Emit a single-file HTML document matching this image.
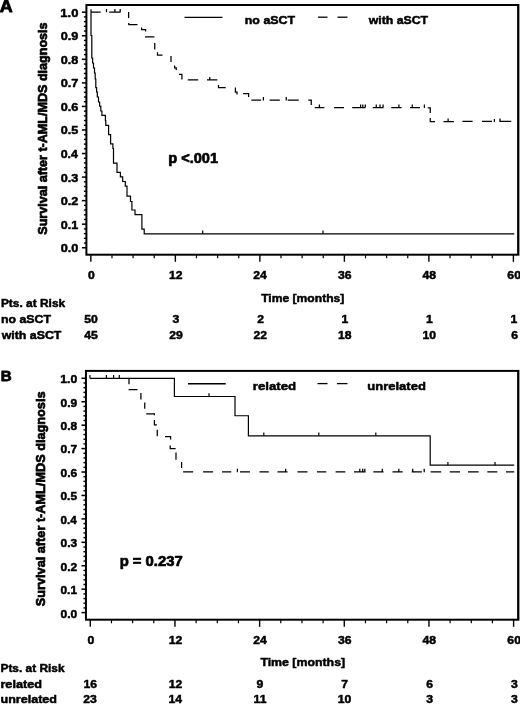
<!DOCTYPE html>
<html><head><meta charset="utf-8"><title>Survival after t-AML/MDS diagnosis</title>
<style>
html,body{margin:0;padding:0;background:#fff;}
svg{display:block;}
svg text{font-family:"Liberation Sans", Arial, Helvetica, sans-serif;font-weight:bold;fill:#000;stroke:#000;stroke-width:0.5px;stroke-linejoin:round;}
</style></head><body>
<svg width="520" height="704" viewBox="0 0 520 704">
<rect x="0" y="0" width="520" height="704" fill="#fff"/>
<rect x="86.4" y="5.0" width="431.70000000000005" height="249.7" fill="none" stroke="#000" stroke-width="2.0"/>
<rect x="519.15" y="4.0" width="0.85" height="251.7" fill="#8c8c8c"/>
<line x1="81.9" y1="247.75" x2="86.4" y2="247.75" stroke="#000" stroke-width="1.5"/>
<line x1="83.9" y1="243.04" x2="86.4" y2="243.04" stroke="#000" stroke-width="1.4"/>
<line x1="83.9" y1="238.33" x2="86.4" y2="238.33" stroke="#000" stroke-width="1.4"/>
<line x1="83.9" y1="233.62" x2="86.4" y2="233.62" stroke="#000" stroke-width="1.4"/>
<line x1="83.9" y1="228.91" x2="86.4" y2="228.91" stroke="#000" stroke-width="1.4"/>
<line x1="81.9" y1="224.19" x2="86.4" y2="224.19" stroke="#000" stroke-width="1.5"/>
<line x1="83.9" y1="219.48" x2="86.4" y2="219.48" stroke="#000" stroke-width="1.4"/>
<line x1="83.9" y1="214.77" x2="86.4" y2="214.77" stroke="#000" stroke-width="1.4"/>
<line x1="83.9" y1="210.06" x2="86.4" y2="210.06" stroke="#000" stroke-width="1.4"/>
<line x1="83.9" y1="205.35" x2="86.4" y2="205.35" stroke="#000" stroke-width="1.4"/>
<line x1="81.9" y1="200.64" x2="86.4" y2="200.64" stroke="#000" stroke-width="1.5"/>
<line x1="83.9" y1="195.93" x2="86.4" y2="195.93" stroke="#000" stroke-width="1.4"/>
<line x1="83.9" y1="191.22" x2="86.4" y2="191.22" stroke="#000" stroke-width="1.4"/>
<line x1="83.9" y1="186.51" x2="86.4" y2="186.51" stroke="#000" stroke-width="1.4"/>
<line x1="83.9" y1="181.8" x2="86.4" y2="181.8" stroke="#000" stroke-width="1.4"/>
<line x1="81.9" y1="177.08" x2="86.4" y2="177.08" stroke="#000" stroke-width="1.5"/>
<line x1="83.9" y1="172.37" x2="86.4" y2="172.37" stroke="#000" stroke-width="1.4"/>
<line x1="83.9" y1="167.66" x2="86.4" y2="167.66" stroke="#000" stroke-width="1.4"/>
<line x1="83.9" y1="162.95" x2="86.4" y2="162.95" stroke="#000" stroke-width="1.4"/>
<line x1="83.9" y1="158.24" x2="86.4" y2="158.24" stroke="#000" stroke-width="1.4"/>
<line x1="81.9" y1="153.53" x2="86.4" y2="153.53" stroke="#000" stroke-width="1.5"/>
<line x1="83.9" y1="148.82" x2="86.4" y2="148.82" stroke="#000" stroke-width="1.4"/>
<line x1="83.9" y1="144.11" x2="86.4" y2="144.11" stroke="#000" stroke-width="1.4"/>
<line x1="83.9" y1="139.4" x2="86.4" y2="139.4" stroke="#000" stroke-width="1.4"/>
<line x1="83.9" y1="134.69" x2="86.4" y2="134.69" stroke="#000" stroke-width="1.4"/>
<line x1="81.9" y1="129.97" x2="86.4" y2="129.97" stroke="#000" stroke-width="1.5"/>
<line x1="83.9" y1="125.26" x2="86.4" y2="125.26" stroke="#000" stroke-width="1.4"/>
<line x1="83.9" y1="120.55" x2="86.4" y2="120.55" stroke="#000" stroke-width="1.4"/>
<line x1="83.9" y1="115.84" x2="86.4" y2="115.84" stroke="#000" stroke-width="1.4"/>
<line x1="83.9" y1="111.13" x2="86.4" y2="111.13" stroke="#000" stroke-width="1.4"/>
<line x1="81.9" y1="106.42" x2="86.4" y2="106.42" stroke="#000" stroke-width="1.5"/>
<line x1="83.9" y1="101.71" x2="86.4" y2="101.71" stroke="#000" stroke-width="1.4"/>
<line x1="83.9" y1="97.0" x2="86.4" y2="97.0" stroke="#000" stroke-width="1.4"/>
<line x1="83.9" y1="92.29" x2="86.4" y2="92.29" stroke="#000" stroke-width="1.4"/>
<line x1="83.9" y1="87.58" x2="86.4" y2="87.58" stroke="#000" stroke-width="1.4"/>
<line x1="81.9" y1="82.87" x2="86.4" y2="82.87" stroke="#000" stroke-width="1.5"/>
<line x1="83.9" y1="78.15" x2="86.4" y2="78.15" stroke="#000" stroke-width="1.4"/>
<line x1="83.9" y1="73.44" x2="86.4" y2="73.44" stroke="#000" stroke-width="1.4"/>
<line x1="83.9" y1="68.73" x2="86.4" y2="68.73" stroke="#000" stroke-width="1.4"/>
<line x1="83.9" y1="64.02" x2="86.4" y2="64.02" stroke="#000" stroke-width="1.4"/>
<line x1="81.9" y1="59.31" x2="86.4" y2="59.31" stroke="#000" stroke-width="1.5"/>
<line x1="83.9" y1="54.6" x2="86.4" y2="54.6" stroke="#000" stroke-width="1.4"/>
<line x1="83.9" y1="49.89" x2="86.4" y2="49.89" stroke="#000" stroke-width="1.4"/>
<line x1="83.9" y1="45.18" x2="86.4" y2="45.18" stroke="#000" stroke-width="1.4"/>
<line x1="83.9" y1="40.47" x2="86.4" y2="40.47" stroke="#000" stroke-width="1.4"/>
<line x1="81.9" y1="35.75" x2="86.4" y2="35.75" stroke="#000" stroke-width="1.5"/>
<line x1="83.9" y1="31.04" x2="86.4" y2="31.04" stroke="#000" stroke-width="1.4"/>
<line x1="83.9" y1="26.33" x2="86.4" y2="26.33" stroke="#000" stroke-width="1.4"/>
<line x1="83.9" y1="21.62" x2="86.4" y2="21.62" stroke="#000" stroke-width="1.4"/>
<line x1="83.9" y1="16.91" x2="86.4" y2="16.91" stroke="#000" stroke-width="1.4"/>
<line x1="81.9" y1="12.2" x2="86.4" y2="12.2" stroke="#000" stroke-width="1.5"/>
<line x1="90.85" y1="254.7" x2="90.85" y2="261.8" stroke="#000" stroke-width="1.4"/>
<line x1="111.98" y1="254.7" x2="111.98" y2="258.3" stroke="#000" stroke-width="1.2"/>
<line x1="133.1" y1="254.7" x2="133.1" y2="258.3" stroke="#000" stroke-width="1.2"/>
<line x1="154.23" y1="254.7" x2="154.23" y2="258.3" stroke="#000" stroke-width="1.2"/>
<line x1="175.36" y1="254.7" x2="175.36" y2="261.8" stroke="#000" stroke-width="1.4"/>
<line x1="196.49" y1="254.7" x2="196.49" y2="258.3" stroke="#000" stroke-width="1.2"/>
<line x1="217.61" y1="254.7" x2="217.61" y2="258.3" stroke="#000" stroke-width="1.2"/>
<line x1="238.74" y1="254.7" x2="238.74" y2="258.3" stroke="#000" stroke-width="1.2"/>
<line x1="259.87" y1="254.7" x2="259.87" y2="261.8" stroke="#000" stroke-width="1.4"/>
<line x1="281.0" y1="254.7" x2="281.0" y2="258.3" stroke="#000" stroke-width="1.2"/>
<line x1="302.12" y1="254.7" x2="302.12" y2="258.3" stroke="#000" stroke-width="1.2"/>
<line x1="323.25" y1="254.7" x2="323.25" y2="258.3" stroke="#000" stroke-width="1.2"/>
<line x1="344.38" y1="254.7" x2="344.38" y2="261.8" stroke="#000" stroke-width="1.4"/>
<line x1="365.51" y1="254.7" x2="365.51" y2="258.3" stroke="#000" stroke-width="1.2"/>
<line x1="386.63" y1="254.7" x2="386.63" y2="258.3" stroke="#000" stroke-width="1.2"/>
<line x1="407.76" y1="254.7" x2="407.76" y2="258.3" stroke="#000" stroke-width="1.2"/>
<line x1="428.89" y1="254.7" x2="428.89" y2="261.8" stroke="#000" stroke-width="1.4"/>
<line x1="450.02" y1="254.7" x2="450.02" y2="258.3" stroke="#000" stroke-width="1.2"/>
<line x1="471.14" y1="254.7" x2="471.14" y2="258.3" stroke="#000" stroke-width="1.2"/>
<line x1="492.27" y1="254.7" x2="492.27" y2="258.3" stroke="#000" stroke-width="1.2"/>
<line x1="513.4" y1="254.7" x2="513.4" y2="261.8" stroke="#000" stroke-width="1.4"/>
<path d="M91,12.2 V35.5 H91.8 V58 H92.6 V63 H93.5 V68 H94.5 V73 H95.2 V79 H95.8 V87.7 H96.6 V92 H97.3 V97 H98.5 V102 H99.6 V106.2 H100.8 V111 H101.9 V115.4 H105.4 V120.5 H105.8 V125.4 H108.6 V134.6 H110.6 V143.8 H112.9 V148.5 H113.5 V163.1 H117 V172.3 H120.4 V176.9 H122.7 V181.5 H125.3 V186.2 H127 V196.2 H130.5 V201.5 H131.9 V210 H135 V214.6 H141.9 V229.2 H144.2 V233.8 H514.3" fill="none" stroke="#000" stroke-width="1.2"/>
<line x1="202.7" y1="233.8" x2="202.7" y2="230.4" stroke="#000" stroke-width="1.2"/>
<line x1="323" y1="233.8" x2="323" y2="230.4" stroke="#000" stroke-width="1.2"/>
<line x1="91" y1="12.2" x2="91" y2="9.2" stroke="#000" stroke-width="1.2"/>
<path d="M91,12.2 H100.6 M106.5,12.2 V9 M109.2,12.2 H120.4 M114.9,12.2 V9 M120.2,12.2 V9 M128.6,12 V18.1 M128.8,22.9 V24.7 H137.5 M141.6,27.5 V29.5 H145.6 V31.5 M145,36.9 H154.4 M154.75,43.1 V49.4 M157.5,52.2 V55 H162.5 M171,56 V61.9 M174.6,65.6 V67.75 H176.25 V70 M179,74.4 H181.9 V79.4 M187.75,79.8 H198.2 M207,79.9 H217.3 M209.75,79.9 V77 M218.5,85 V87.5 H225.7 M235.4,87.5 V92 H237 V94.4 M243.1,93.7 H248.6 V97 M251.3,100 H261.1 M263.4,100.4 V97 M269.6,100.2 H279.8 M286.25,100.4 V97 M287.75,100.2 H298.75 M308.3,100.1 H311.25 V105 M314.75,107.5 H324.4 M319.4,107.5 V104.6 M334,107.5 H344 M352.25,107.5 H365.3 M360.6,107.5 V104.5 M362.8,107.5 V104.5 M365.3,107.5 V104.5 M372.75,107.5 H383.5 M376.25,107.5 V104.5 M380,107.5 V104.5 M383.1,107.5 V104.5 M391.25,107.5 H401.6 M398.9,107.5 V104.5 M410,107.6 H420 M412.25,107.6 V104.5 M424.4,108 V104.5 M427.75,107.75 H430.25 V113.1 M430.25,118.1 V121.5 H435 M443.5,121.5 H453.9 M448.1,121.5 V118.5 M462.4,121.4 H472.6 M482,121.4 H492 M494.4,122 V119 M500,118.6 V121.4 H511.25" fill="none" stroke="#000" stroke-width="1.25"/>
<line x1="184.5" y1="17.4" x2="222.5" y2="17.4" stroke="#000" stroke-width="1.3"/>
<line x1="318" y1="17.2" x2="327.5" y2="17.2" stroke="#000" stroke-width="1.3"/>
<line x1="337.5" y1="17.2" x2="347.5" y2="17.2" stroke="#000" stroke-width="1.3"/>
<rect x="85.95" y="370.9" width="432.15000000000003" height="248.80000000000007" fill="none" stroke="#000" stroke-width="2.0"/>
<rect x="519.15" y="369.9" width="0.85" height="250.80000000000007" fill="#8c8c8c"/>
<line x1="81.45" y1="612.6" x2="85.95" y2="612.6" stroke="#000" stroke-width="1.5"/>
<line x1="83.45" y1="607.91" x2="85.95" y2="607.91" stroke="#000" stroke-width="1.4"/>
<line x1="83.45" y1="603.23" x2="85.95" y2="603.23" stroke="#000" stroke-width="1.4"/>
<line x1="83.45" y1="598.54" x2="85.95" y2="598.54" stroke="#000" stroke-width="1.4"/>
<line x1="83.45" y1="593.86" x2="85.95" y2="593.86" stroke="#000" stroke-width="1.4"/>
<line x1="81.45" y1="589.17" x2="85.95" y2="589.17" stroke="#000" stroke-width="1.5"/>
<line x1="83.45" y1="584.48" x2="85.95" y2="584.48" stroke="#000" stroke-width="1.4"/>
<line x1="83.45" y1="579.8" x2="85.95" y2="579.8" stroke="#000" stroke-width="1.4"/>
<line x1="83.45" y1="575.11" x2="85.95" y2="575.11" stroke="#000" stroke-width="1.4"/>
<line x1="83.45" y1="570.43" x2="85.95" y2="570.43" stroke="#000" stroke-width="1.4"/>
<line x1="81.45" y1="565.74" x2="85.95" y2="565.74" stroke="#000" stroke-width="1.5"/>
<line x1="83.45" y1="561.05" x2="85.95" y2="561.05" stroke="#000" stroke-width="1.4"/>
<line x1="83.45" y1="556.37" x2="85.95" y2="556.37" stroke="#000" stroke-width="1.4"/>
<line x1="83.45" y1="551.68" x2="85.95" y2="551.68" stroke="#000" stroke-width="1.4"/>
<line x1="83.45" y1="547.0" x2="85.95" y2="547.0" stroke="#000" stroke-width="1.4"/>
<line x1="81.45" y1="542.31" x2="85.95" y2="542.31" stroke="#000" stroke-width="1.5"/>
<line x1="83.45" y1="537.62" x2="85.95" y2="537.62" stroke="#000" stroke-width="1.4"/>
<line x1="83.45" y1="532.94" x2="85.95" y2="532.94" stroke="#000" stroke-width="1.4"/>
<line x1="83.45" y1="528.25" x2="85.95" y2="528.25" stroke="#000" stroke-width="1.4"/>
<line x1="83.45" y1="523.57" x2="85.95" y2="523.57" stroke="#000" stroke-width="1.4"/>
<line x1="81.45" y1="518.88" x2="85.95" y2="518.88" stroke="#000" stroke-width="1.5"/>
<line x1="83.45" y1="514.19" x2="85.95" y2="514.19" stroke="#000" stroke-width="1.4"/>
<line x1="83.45" y1="509.51" x2="85.95" y2="509.51" stroke="#000" stroke-width="1.4"/>
<line x1="83.45" y1="504.82" x2="85.95" y2="504.82" stroke="#000" stroke-width="1.4"/>
<line x1="83.45" y1="500.14" x2="85.95" y2="500.14" stroke="#000" stroke-width="1.4"/>
<line x1="81.45" y1="495.45" x2="85.95" y2="495.45" stroke="#000" stroke-width="1.5"/>
<line x1="83.45" y1="490.76" x2="85.95" y2="490.76" stroke="#000" stroke-width="1.4"/>
<line x1="83.45" y1="486.08" x2="85.95" y2="486.08" stroke="#000" stroke-width="1.4"/>
<line x1="83.45" y1="481.39" x2="85.95" y2="481.39" stroke="#000" stroke-width="1.4"/>
<line x1="83.45" y1="476.71" x2="85.95" y2="476.71" stroke="#000" stroke-width="1.4"/>
<line x1="81.45" y1="472.02" x2="85.95" y2="472.02" stroke="#000" stroke-width="1.5"/>
<line x1="83.45" y1="467.33" x2="85.95" y2="467.33" stroke="#000" stroke-width="1.4"/>
<line x1="83.45" y1="462.65" x2="85.95" y2="462.65" stroke="#000" stroke-width="1.4"/>
<line x1="83.45" y1="457.96" x2="85.95" y2="457.96" stroke="#000" stroke-width="1.4"/>
<line x1="83.45" y1="453.28" x2="85.95" y2="453.28" stroke="#000" stroke-width="1.4"/>
<line x1="81.45" y1="448.59" x2="85.95" y2="448.59" stroke="#000" stroke-width="1.5"/>
<line x1="83.45" y1="443.9" x2="85.95" y2="443.9" stroke="#000" stroke-width="1.4"/>
<line x1="83.45" y1="439.22" x2="85.95" y2="439.22" stroke="#000" stroke-width="1.4"/>
<line x1="83.45" y1="434.53" x2="85.95" y2="434.53" stroke="#000" stroke-width="1.4"/>
<line x1="83.45" y1="429.85" x2="85.95" y2="429.85" stroke="#000" stroke-width="1.4"/>
<line x1="81.45" y1="425.16" x2="85.95" y2="425.16" stroke="#000" stroke-width="1.5"/>
<line x1="83.45" y1="420.47" x2="85.95" y2="420.47" stroke="#000" stroke-width="1.4"/>
<line x1="83.45" y1="415.79" x2="85.95" y2="415.79" stroke="#000" stroke-width="1.4"/>
<line x1="83.45" y1="411.1" x2="85.95" y2="411.1" stroke="#000" stroke-width="1.4"/>
<line x1="83.45" y1="406.42" x2="85.95" y2="406.42" stroke="#000" stroke-width="1.4"/>
<line x1="81.45" y1="401.73" x2="85.95" y2="401.73" stroke="#000" stroke-width="1.5"/>
<line x1="83.45" y1="397.04" x2="85.95" y2="397.04" stroke="#000" stroke-width="1.4"/>
<line x1="83.45" y1="392.36" x2="85.95" y2="392.36" stroke="#000" stroke-width="1.4"/>
<line x1="83.45" y1="387.67" x2="85.95" y2="387.67" stroke="#000" stroke-width="1.4"/>
<line x1="83.45" y1="382.99" x2="85.95" y2="382.99" stroke="#000" stroke-width="1.4"/>
<line x1="81.45" y1="378.3" x2="85.95" y2="378.3" stroke="#000" stroke-width="1.5"/>
<line x1="90.3" y1="619.7" x2="90.3" y2="626.8000000000001" stroke="#000" stroke-width="1.4"/>
<line x1="111.47" y1="619.7" x2="111.47" y2="623.3000000000001" stroke="#000" stroke-width="1.2"/>
<line x1="132.63" y1="619.7" x2="132.63" y2="623.3000000000001" stroke="#000" stroke-width="1.2"/>
<line x1="153.8" y1="619.7" x2="153.8" y2="623.3000000000001" stroke="#000" stroke-width="1.2"/>
<line x1="174.96" y1="619.7" x2="174.96" y2="626.8000000000001" stroke="#000" stroke-width="1.4"/>
<line x1="196.12" y1="619.7" x2="196.12" y2="623.3000000000001" stroke="#000" stroke-width="1.2"/>
<line x1="217.29" y1="619.7" x2="217.29" y2="623.3000000000001" stroke="#000" stroke-width="1.2"/>
<line x1="238.45" y1="619.7" x2="238.45" y2="623.3000000000001" stroke="#000" stroke-width="1.2"/>
<line x1="259.62" y1="619.7" x2="259.62" y2="626.8000000000001" stroke="#000" stroke-width="1.4"/>
<line x1="280.79" y1="619.7" x2="280.79" y2="623.3000000000001" stroke="#000" stroke-width="1.2"/>
<line x1="301.95" y1="619.7" x2="301.95" y2="623.3000000000001" stroke="#000" stroke-width="1.2"/>
<line x1="323.12" y1="619.7" x2="323.12" y2="623.3000000000001" stroke="#000" stroke-width="1.2"/>
<line x1="344.28" y1="619.7" x2="344.28" y2="626.8000000000001" stroke="#000" stroke-width="1.4"/>
<line x1="365.45" y1="619.7" x2="365.45" y2="623.3000000000001" stroke="#000" stroke-width="1.2"/>
<line x1="386.61" y1="619.7" x2="386.61" y2="623.3000000000001" stroke="#000" stroke-width="1.2"/>
<line x1="407.78" y1="619.7" x2="407.78" y2="623.3000000000001" stroke="#000" stroke-width="1.2"/>
<line x1="428.94" y1="619.7" x2="428.94" y2="626.8000000000001" stroke="#000" stroke-width="1.4"/>
<line x1="450.11" y1="619.7" x2="450.11" y2="623.3000000000001" stroke="#000" stroke-width="1.2"/>
<line x1="471.27" y1="619.7" x2="471.27" y2="623.3000000000001" stroke="#000" stroke-width="1.2"/>
<line x1="492.44" y1="619.7" x2="492.44" y2="623.3000000000001" stroke="#000" stroke-width="1.2"/>
<line x1="513.6" y1="619.7" x2="513.6" y2="626.8000000000001" stroke="#000" stroke-width="1.4"/>
<path d="M89.9,378.3 H174.4 V396.5 H235 V415.75 H248.4 V435.8 H430.2 V465.2 H514.2" fill="none" stroke="#000" stroke-width="1.2"/>
<line x1="89.9" y1="378.3" x2="89.9" y2="375.0" stroke="#000" stroke-width="1.2"/>
<line x1="106.4" y1="378.3" x2="106.4" y2="375.0" stroke="#000" stroke-width="1.2"/>
<line x1="113.6" y1="378.3" x2="113.6" y2="375.0" stroke="#000" stroke-width="1.2"/>
<line x1="119.3" y1="378.3" x2="119.3" y2="375.0" stroke="#000" stroke-width="1.2"/>
<line x1="209" y1="396.5" x2="209" y2="393.2" stroke="#000" stroke-width="1.2"/>
<line x1="263.8" y1="435.8" x2="263.8" y2="432.5" stroke="#000" stroke-width="1.2"/>
<line x1="318.8" y1="435.8" x2="318.8" y2="432.5" stroke="#000" stroke-width="1.2"/>
<line x1="375.8" y1="435.8" x2="375.8" y2="432.5" stroke="#000" stroke-width="1.2"/>
<line x1="447.9" y1="465.2" x2="447.9" y2="461.9" stroke="#000" stroke-width="1.2"/>
<line x1="495" y1="465.2" x2="495" y2="461.9" stroke="#000" stroke-width="1.2"/>
<path d="M129,378.3 V384.2 M128.6,389.6 H137.5 M140.9,393.1 V399.4 M144.75,402.5 V408.75 M146.25,413.75 H154.4 V415.3 M154.4,420 V424.75 H156.9 M157.25,429.75 V436.25 M165,436.6 H170.6 V439.4 M170.2,445.4 V448.5 H175.6 M176,452.5 V459.75 M181.6,461.9 V468.1 M183.1,471.9 H193.1 M203.1,471.9 H213.1 M222,471.9 H231.25 M237.4,472.2 V468.8 M240,471.9 H250 M259.5,471.9 H268.75 M277.5,471.9 H287.5 M285.6,471.9 V468.8 M297.5,471.9 H307.5 M317,471.9 H326.25 M335.6,471.9 H345.3 M354,471.9 H365.6 M359.8,471.9 V468.8 M362.7,471.9 V468.8 M364.8,471.9 V468.8 M373.3,471.9 H383.5 M382.3,471.9 V468.8 M392.5,471.9 H402.7 M398.8,471.9 V468.8 M411.7,471.9 H421.9 M412.7,471.9 V468.8 M424.2,472.3 V468.8 M430.6,471.9 H441.2 M449.8,471.9 H460 M468,471.9 H478.7 M487.3,471.9 H497.3 M506,471.9 H514.2" fill="none" stroke="#000" stroke-width="1.25"/>
<line x1="188" y1="383.75" x2="225.75" y2="383.75" stroke="#000" stroke-width="1.3"/>
<line x1="317.5" y1="383.6" x2="327.5" y2="383.6" stroke="#000" stroke-width="1.3"/>
<line x1="337" y1="383.6" x2="347.5" y2="383.6" stroke="#000" stroke-width="1.3"/>
<text transform="translate(60.69,252.25) scale(1.0957,1)" font-size="11.6">0.0</text>
<text transform="translate(60.70,228.69) scale(1.0833,1)" font-size="11.6">0.1</text>
<text transform="translate(60.69,205.14) scale(1.0957,1)" font-size="11.6">0.2</text>
<text transform="translate(60.69,181.58) scale(1.0915,1)" font-size="11.6">0.3</text>
<text transform="translate(60.70,158.03) scale(1.0672,1)" font-size="11.6">0.4</text>
<text transform="translate(60.70,134.47) scale(1.0833,1)" font-size="11.6">0.5</text>
<text transform="translate(60.69,110.92) scale(1.0915,1)" font-size="11.6">0.6</text>
<text transform="translate(60.69,87.37) scale(1.0999,1)" font-size="11.6">0.7</text>
<text transform="translate(60.70,63.81) scale(1.0874,1)" font-size="11.6">0.8</text>
<text transform="translate(60.69,40.25) scale(1.0915,1)" font-size="11.6">0.9</text>
<text transform="translate(60.36,16.7) scale(1.1170,1)" font-size="11.6">1.0</text>
<text transform="translate(244.79,24.3) scale(1.0700,1)" font-size="11.6">no aSCT</text>
<text transform="translate(368.75,24.3) scale(1.0586,1)" font-size="11.6">with aSCT</text>
<text transform="translate(168.25,163.1) scale(1.0554,1)" font-size="13.8" style="stroke-width:0.65px">p &lt;.001</text>
<text transform="translate(-0.15,12.4) scale(1.0536,1)" font-size="17.0" style="stroke-width:0.8px">A</text>
<text transform="translate(87.92,279.2) scale(1.0500,1)" font-size="11.6">0</text>
<text transform="translate(169.09,279.2) scale(1.0500,1)" font-size="11.6">12</text>
<text transform="translate(253.31,279.2) scale(1.0500,1)" font-size="11.6">24</text>
<text transform="translate(337.90,279.2) scale(1.0500,1)" font-size="11.6">36</text>
<text transform="translate(422.43,279.2) scale(1.0500,1)" font-size="11.6">48</text>
<text transform="translate(507.37,279.2) scale(1.0500,1)" font-size="11.6">60</text>
<text transform="translate(261.13,302) scale(1.0451,1)" font-size="11.6">Time [months]</text>
<text transform="translate(0.92,307.3) scale(1.0280,1)" font-size="11.6">Pts. at Risk</text>
<text transform="translate(0.90,322.8) scale(1.0635,1)" font-size="11.6">no aSCT</text>
<text transform="translate(1.70,339.1) scale(1.0649,1)" font-size="11.6">with aSCT</text>
<text transform="translate(84.30,322.8) scale(1.0500,1)" font-size="11.6">50</text>
<text transform="translate(172.48,322.8) scale(1.0500,1)" font-size="11.6">3</text>
<text transform="translate(257.25,322.8) scale(1.0500,1)" font-size="11.6">2</text>
<text transform="translate(341.38,322.8) scale(1.0500,1)" font-size="11.6">1</text>
<text transform="translate(425.88,322.8) scale(1.0500,1)" font-size="11.6">1</text>
<text transform="translate(510.58,322.8) scale(1.0500,1)" font-size="11.6">1</text>
<text transform="translate(84.30,339.1) scale(1.0500,1)" font-size="11.6">45</text>
<text transform="translate(169.24,339.1) scale(1.0500,1)" font-size="11.6">29</text>
<text transform="translate(253.52,339.1) scale(1.0500,1)" font-size="11.6">22</text>
<text transform="translate(338.03,339.1) scale(1.0500,1)" font-size="11.6">18</text>
<text transform="translate(422.49,339.1) scale(1.0500,1)" font-size="11.6">10</text>
<text transform="translate(511.22,339.1) scale(1.0500,1)" font-size="11.6">6</text>
<text transform="translate(60.52,617.5) scale(1.0332,1)" font-size="11.6">0.0</text>
<text transform="translate(60.53,594.07) scale(1.0215,1)" font-size="11.6">0.1</text>
<text transform="translate(60.52,570.64) scale(1.0332,1)" font-size="11.6">0.2</text>
<text transform="translate(60.52,547.21) scale(1.0292,1)" font-size="11.6">0.3</text>
<text transform="translate(60.53,523.78) scale(1.0063,1)" font-size="11.6">0.4</text>
<text transform="translate(60.53,500.35) scale(1.0215,1)" font-size="11.6">0.5</text>
<text transform="translate(60.52,476.92) scale(1.0292,1)" font-size="11.6">0.6</text>
<text transform="translate(60.52,453.49) scale(1.0371,1)" font-size="11.6">0.7</text>
<text transform="translate(60.52,430.06) scale(1.0253,1)" font-size="11.6">0.8</text>
<text transform="translate(60.52,406.63) scale(1.0292,1)" font-size="11.6">0.9</text>
<text transform="translate(60.21,383.2) scale(1.0533,1)" font-size="11.6">1.0</text>
<text transform="translate(252.79,390.3) scale(1.1426,1)" font-size="11.6">related</text>
<text transform="translate(367.22,390.3) scale(1.1232,1)" font-size="11.6">unrelated</text>
<text transform="translate(119.63,565.8) scale(1.0765,1)" font-size="13.8" style="stroke-width:0.65px">p = 0.237</text>
<text transform="translate(0.82,381.0) scale(0.9922,1)" font-size="15.2" style="stroke-width:0.8px">B</text>
<text transform="translate(87.52,643.75) scale(1.0500,1)" font-size="11.6">0</text>
<text transform="translate(168.69,643.75) scale(1.0500,1)" font-size="11.6">12</text>
<text transform="translate(253.31,643.75) scale(1.0500,1)" font-size="11.6">24</text>
<text transform="translate(337.90,643.75) scale(1.0500,1)" font-size="11.6">36</text>
<text transform="translate(422.43,643.75) scale(1.0500,1)" font-size="11.6">48</text>
<text transform="translate(507.37,643.75) scale(1.0500,1)" font-size="11.6">60</text>
<text transform="translate(260.38,666.25) scale(1.0641,1)" font-size="11.6">Time [months]</text>
<text transform="translate(0.48,672) scale(1.0240,1)" font-size="11.6">Pts. at Risk</text>
<text transform="translate(0.42,687.5) scale(1.0947,1)" font-size="11.6">related</text>
<text transform="translate(0.50,703) scale(1.0837,1)" font-size="11.6">unrelated</text>
<text transform="translate(83.46,687.5) scale(1.0500,1)" font-size="11.6">16</text>
<text transform="translate(168.69,687.5) scale(1.0500,1)" font-size="11.6">12</text>
<text transform="translate(256.62,687.5) scale(1.0500,1)" font-size="11.6">9</text>
<text transform="translate(341.37,687.5) scale(1.0500,1)" font-size="11.6">7</text>
<text transform="translate(426.22,687.5) scale(1.0500,1)" font-size="11.6">6</text>
<text transform="translate(511.08,687.5) scale(1.0500,1)" font-size="11.6">3</text>
<text transform="translate(83.24,703) scale(1.0500,1)" font-size="11.6">23</text>
<text transform="translate(168.47,703) scale(1.0500,1)" font-size="11.6">14</text>
<text transform="translate(253.58,703) scale(1.0500,1)" font-size="11.6">11</text>
<text transform="translate(337.69,703) scale(1.0500,1)" font-size="11.6">10</text>
<text transform="translate(426.28,703) scale(1.0500,1)" font-size="11.6">3</text>
<text transform="translate(511.08,703) scale(1.0500,1)" font-size="11.6">3</text>
<text transform="translate(46.9,234.68) rotate(-90) scale(1.0064,1.08)" font-size="12.5" style="stroke-width:0.65px">Survival after t-AML/MDS diagnosis</text>
<text transform="translate(45.0,606.18) rotate(-90) scale(1.0169,1.08)" font-size="12.5" style="stroke-width:0.65px">Survival after t-AML/MDS diagnosis</text>
</svg>
</body></html>
